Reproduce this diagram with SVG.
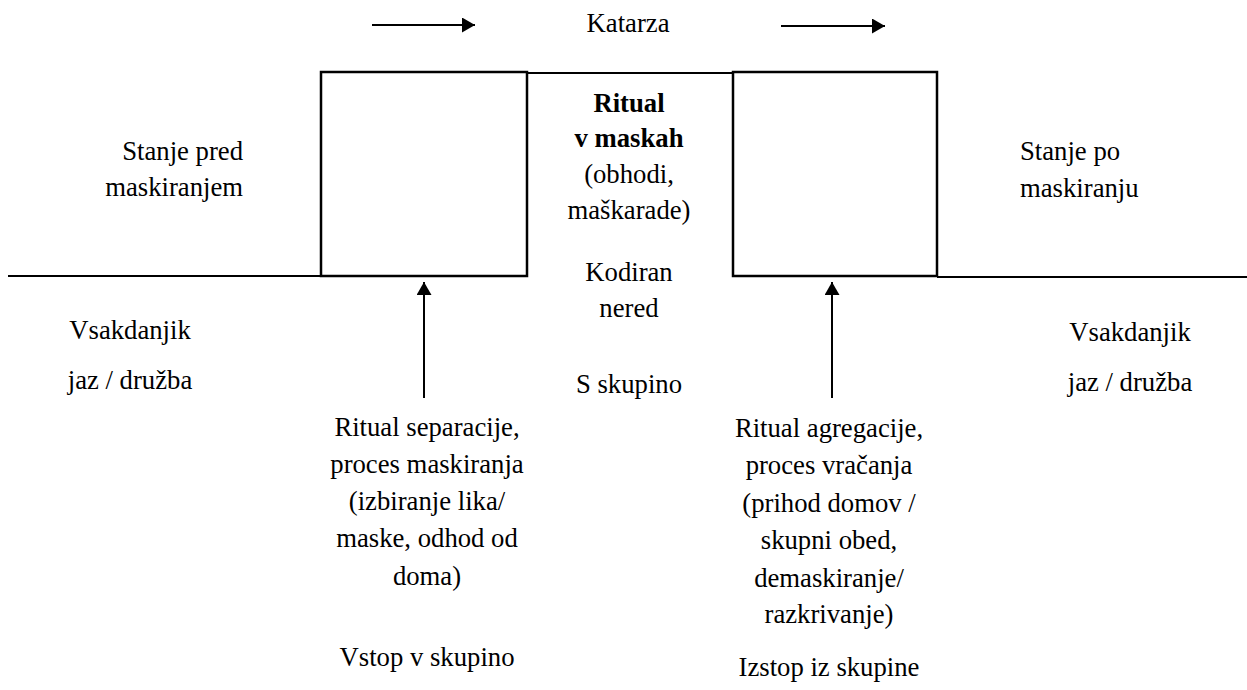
<svg xmlns="http://www.w3.org/2000/svg" width="1247" height="690" viewBox="0 0 1247 690">
<defs>
<style>
text{font-family:"Liberation Serif","Times New Roman",serif;font-size:26.7px;fill:#000}
.c{text-anchor:middle}
.e{text-anchor:end}
.b{font-weight:bold}
.ln{stroke:#000;stroke-width:2;fill:none}
.bx{stroke:#000;stroke-width:2.5;fill:#fff}
</style>
<marker id="ah" markerWidth="14" markerHeight="15" refX="13" refY="7.5" orient="auto" markerUnits="userSpaceOnUse">
<path d="M0,0 L13,7.5 L0,15 Z" fill="#000"/>
</marker>
</defs>
<rect width="1247" height="690" fill="#fff"/>
<g id="connectors">
<line class="ln" x1="8" y1="276" x2="321" y2="276"/>
<line class="ln" x1="937" y1="277" x2="1247" y2="277"/>
<line class="ln" x1="527" y1="73" x2="733" y2="73"/>
<line class="ln" x1="372" y1="25" x2="475" y2="25" marker-end="url(#ah)"/>
<line class="ln" x1="781" y1="26" x2="885" y2="26" marker-end="url(#ah)"/>
<line class="ln" x1="424" y1="398" x2="424" y2="282" marker-end="url(#ah)"/>
<line class="ln" x1="832" y1="398" x2="832" y2="282" marker-end="url(#ah)"/>
</g>
<g id="box-separation"><rect class="bx" x="321" y="72" width="206" height="204"/></g>
<g id="box-aggregation"><rect class="bx" x="733" y="72" width="204" height="204"/></g>
<g id="katarza"><text class="c" x="628" y="32">Katarza</text></g>
<g id="ritual-center">
<text class="c b" x="629" y="112">Ritual</text>
<text class="c b" x="629" y="147">v maskah</text>
<text class="c" x="629" y="183">(obhodi,</text>
<text class="c" x="629" y="219">maškarade)</text>
<text class="c" x="629" y="281">Kodiran</text>
<text class="c" x="629" y="317">nered</text>
<text class="c" x="629" y="393">S skupino</text>
</g>
<g id="state-before">
<text class="e" x="243" y="160">Stanje pred</text>
<text class="e" x="243" y="196">maskiranjem</text>
</g>
<g id="state-after">
<text x="1020" y="160">Stanje po</text>
<text x="1020" y="197">maskiranju</text>
</g>
<g id="everyday-left">
<text class="c" x="130" y="339">Vsakdanjik</text>
<text class="c" x="130" y="389">jaz / družba</text>
</g>
<g id="everyday-right">
<text class="c" x="1130" y="341">Vsakdanjik</text>
<text class="c" x="1130" y="391">jaz / družba</text>
</g>
<g id="separation">
<text class="c" x="427" y="436">Ritual separacije,</text>
<text class="c" x="427" y="473">proces maskiranja</text>
<text class="c" x="427" y="510">(izbiranje lika/</text>
<text class="c" x="427" y="547">maske, odhod od</text>
<text class="c" x="427" y="585">doma)</text>
<text class="c" x="427" y="666">Vstop v skupino</text>
</g>
<g id="aggregation">
<text class="c" x="829" y="437">Ritual agregacije,</text>
<text class="c" x="829" y="474">proces vračanja</text>
<text class="c" x="829" y="512">(prihod domov /</text>
<text class="c" x="829" y="549">skupni obed,</text>
<text class="c" x="829" y="587">demaskiranje/</text>
<text class="c" x="829" y="623">razkrivanje)</text>
<text class="c" x="829" y="676">Izstop iz skupine</text>
</g>
</svg>
